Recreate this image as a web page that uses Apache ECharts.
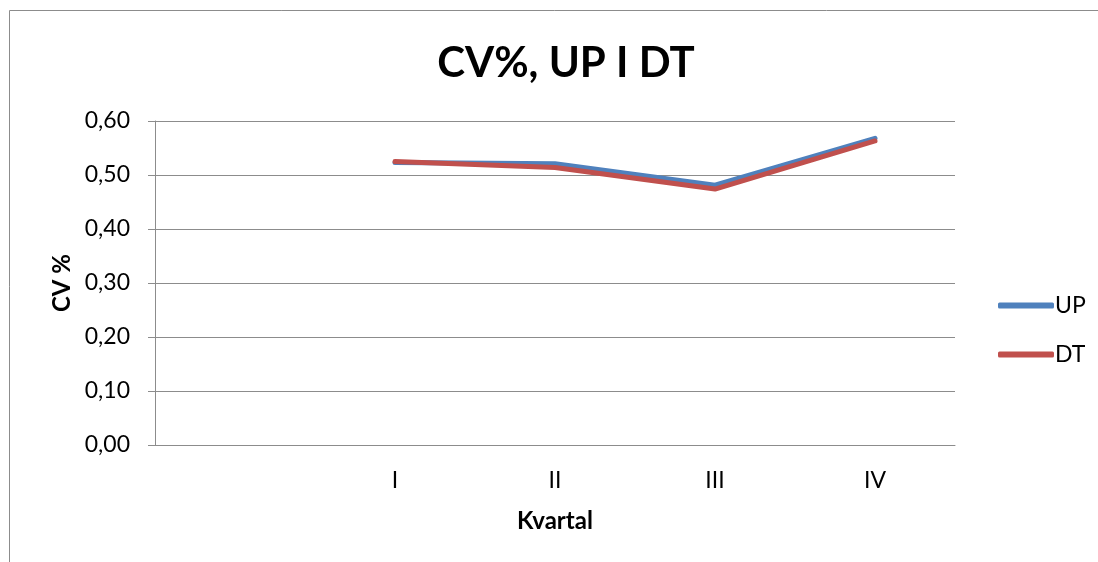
<!DOCTYPE html>
<html>
<head>
<meta charset="utf-8">
<script src="https://cdn.jsdelivr.net/npm/echarts@6/dist/echarts.min.js"></script>
<style>
  html, body { margin: 0; padding: 0; background: #fff; }
  #chart { width: 1098px; height: 562px; }
</style>
</head>
<body>
<div id="chart"></div>
<script>
// kvartal categories (first slot is empty in the original)
const categories = ['', 'I', 'II', 'III', 'IV'];
const upValues = [null, 0.523, 0.521, 0.481, 0.568];
const dtValues = [null, 0.525, 0.514, 0.474, 0.563];
const yTicks = [0, 0.1, 0.2, 0.3, 0.4, 0.5, 0.6];

const font = "Lato, 'Open Sans', sans-serif";

let chart = echarts.init(document.getElementById('chart'));
chart.setOption({
    animation: false,
    graphic: [{
        type: 'rect',
        shape: { x: 9.5, y: 10.5, width: 1200, height: 700 },
        style: { fill: 'none', stroke: '#8c8c8c', lineWidth: 1 }
    }],
    title: {
        text: 'CV%, UP I DT',
        left: 561,
        top: 37,
        textAlign: 'center',
        textStyle: { fontFamily: font, fontSize: 42, fontWeight: 'bold', color: '#000' }
    },
    legend: {
        orient: 'vertical',
        left: 993,
        top: 289,
        itemWidth: 56,
        itemHeight: 6,
        itemGap: 26,
        icon: 'roundRect',
        textStyle: { fontFamily: font, fontSize: 23, color: '#000', padding: [0, 0, 0, -4] },
        data: ['UP', 'DT']
    },
    grid: { left: 155, right: 143, top: 121, bottom: 117 },
    xAxis: {
        type: 'category',
        data: categories,
        boundaryGap: true,
        name: 'Kvartal',
        nameLocation: 'middle',
        nameGap: 64,
        nameTextStyle: { fontFamily: font, fontSize: 24, fontWeight: 'bold', color: '#000' },
        axisLine: { lineStyle: { color: '#8c8c8c', width: 1 } },
        axisTick: { show: false },
        axisLabel: { fontFamily: font, fontSize: 23, color: '#000', margin: 24 }
    },
    yAxis: {
        type: 'value',
        min: 0,
        max: 0.6,
        interval: 0.1,
        name: 'CV %',
        nameLocation: 'middle',
        nameGap: 81,
        nameTextStyle: { fontFamily: font, fontSize: 24, fontWeight: 'bold', color: '#000' },
        axisLine: { show: true, lineStyle: { color: '#8c8c8c', width: 1 } },
        axisTick: { show: true, length: 7, lineStyle: { color: '#8c8c8c' } },
        splitLine: { lineStyle: { color: '#8c8c8c', width: 1 } },
        axisLabel: {
            fontFamily: font, fontSize: 23, color: '#000', margin: 25,
            formatter: function (v) {
                const t = yTicks.find(x => Math.abs(x - v) < 1e-9);
                return (t !== undefined ? t : v).toFixed(2).replace('.', ',');
            }
        }
    },
    series: [{
        name: 'UP',
        type: 'line',
        data: upValues,
        symbol: 'none',
        color: '#4F81BD',
        lineStyle: { width: 5, cap: 'round', join: 'round' }
    }, {
        name: 'DT',
        type: 'line',
        data: dtValues,
        symbol: 'none',
        color: '#C0504D',
        lineStyle: { width: 5, cap: 'round', join: 'round' }
    }]
});
</script>
</body>
</html>
